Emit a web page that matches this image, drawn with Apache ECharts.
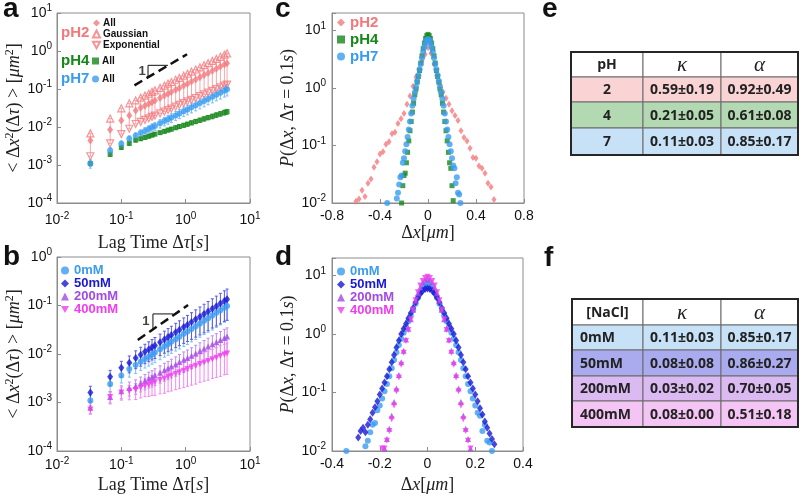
<!DOCTYPE html>
<html>
<head>
<meta charset="utf-8">
<script src="https://cdn.jsdelivr.net/npm/echarts@6/dist/echarts.min.js"></script>
<style>
html, body { margin: 0; padding: 0; background: #fff; }
#chart { width: 800px; height: 498px; }
</style>
</head>
<body>
<div id="chart"></div>
<script>
// lag times (s) shared by panels a and b
var lagTime = [0.033, 0.067, 0.1, 0.133, 0.167, 0.2, 0.233, 0.267, 0.3, 0.333, 0.4, 0.467, 0.533, 0.6,
    0.7, 0.8, 0.933, 1.067, 1.233, 1.433, 1.667, 1.933, 2.233, 2.6, 3.0, 3.467, 4.0, 4.4];

// panel a: MSD vs pH
var msdPH2 = [0.0044, 0.0085, 0.0148, 0.020, 0.027, 0.032, 0.036, 0.041, 0.045, 0.050, 0.058, 0.067, 0.075, 0.083,
    0.095, 0.107, 0.123, 0.138, 0.157, 0.179, 0.204, 0.233, 0.264, 0.302, 0.343, 0.389, 0.441, 0.479];
var msdPH2Gauss = [0.0068, 0.0167, 0.031, 0.042, 0.050, 0.059, 0.067, 0.075, 0.084, 0.092, 0.107, 0.123, 0.138, 0.153,
    0.175, 0.196, 0.224, 0.252, 0.286, 0.326, 0.372, 0.423, 0.479, 0.547, 0.619, 0.703, 0.796, 0.865];
var msdPH2Exp = [0.0017, 0.0037, 0.0065, 0.009, 0.012, 0.0137, 0.0154, 0.0169, 0.0185, 0.020, 0.0228, 0.0255, 0.028, 0.0306,
    0.0343, 0.038, 0.0426, 0.047, 0.052, 0.058, 0.065, 0.072, 0.080, 0.089, 0.099, 0.110, 0.122, 0.131];
var msdPH4 = [0.0011, 0.0019, 0.0029, 0.0037, 0.0045, 0.0049, 0.0053, 0.0057, 0.0061, 0.0065, 0.0071, 0.0077, 0.0083, 0.0088,
    0.0096, 0.0103, 0.0111, 0.0119, 0.0129, 0.014, 0.0151, 0.0164, 0.0177, 0.0191, 0.0207, 0.0223, 0.0241, 0.0253];
var msdPH7 = [0.0011, 0.0024, 0.0036, 0.0049, 0.0059, 0.0069, 0.0079, 0.0088, 0.0098, 0.0107, 0.0125, 0.0143, 0.016, 0.0178,
    0.0202, 0.0227, 0.026, 0.029, 0.0329, 0.0374, 0.0427, 0.0484, 0.0548, 0.0625, 0.0706, 0.080, 0.090, 0.098];
// relative error bars
var errPH4 = [0.15, 0.12, 0.12, 0.1, 0.1, 0.1, 0.1, 0.1, 0.1, 0.1, 0.1, 0.11, 0.11, 0.11,
    0.11, 0.12, 0.12, 0.12, 0.12, 0.13, 0.13, 0.13, 0.13, 0.14, 0.14, 0.14, 0.15, 0.15];
var errPH7 = [0.25, 0.2, 0.2, 0.2, 0.2, 0.22, 0.22, 0.22, 0.24, 0.24, 0.25, 0.25, 0.26, 0.26,
    0.27, 0.27, 0.28, 0.28, 0.29, 0.29, 0.3, 0.3, 0.3, 0.31, 0.31, 0.32, 0.32, 0.33];

// panel b: MSD vs [NaCl]  (0mM is the pH7 sample)
var msd0mM = msdPH7;
var msd50mM = [0.0016, 0.0034, 0.0052, 0.0066, 0.0083, 0.0097, 0.0111, 0.0124, 0.0137, 0.015, 0.0175, 0.020, 0.0223, 0.0247,
    0.0282, 0.0316, 0.036, 0.0403, 0.0456, 0.0518, 0.0589, 0.0667, 0.0755, 0.0859, 0.097, 0.110, 0.124, 0.134];
var msd200mM = [0.00078, 0.0013, 0.0017, 0.0020, 0.0022, 0.0025, 0.0028, 0.0031, 0.0033, 0.0036, 0.0041, 0.0046, 0.005, 0.0055,
    0.0061, 0.0068, 0.0076, 0.0083, 0.0092, 0.0103, 0.0115, 0.0128, 0.0142, 0.0158, 0.0175, 0.0194, 0.0215, 0.023];
var msd400mM = [0.00072, 0.0013, 0.0016, 0.0017, 0.0018, 0.0020, 0.0022, 0.0023, 0.0025, 0.0026, 0.0029, 0.0031, 0.0034, 0.0036,
    0.0039, 0.0042, 0.0045, 0.0049, 0.0053, 0.0057, 0.0062, 0.0067, 0.0072, 0.0078, 0.0084, 0.0091, 0.0098, 0.0103];
var err0mM = [0.3, 0.3, 0.3, 0.32, 0.33, 0.34, 0.35, 0.36, 0.37, 0.38, 0.39, 0.4, 0.41, 0.42,
    0.43, 0.44, 0.45, 0.46, 0.46, 0.47, 0.48, 0.48, 0.49, 0.5, 0.5, 0.5, 0.5, 0.5];
var err50mM = [0.35, 0.35, 0.36, 0.38, 0.4, 0.42, 0.43, 0.44, 0.45, 0.46, 0.47, 0.48, 0.5, 0.51,
    0.52, 0.53, 0.54, 0.55, 0.56, 0.57, 0.58, 0.59, 0.6, 0.6, 0.61, 0.62, 0.62, 0.63];
var err200mM = [0.25, 0.28, 0.3, 0.32, 0.33, 0.34, 0.35, 0.36, 0.37, 0.38, 0.39, 0.4, 0.41, 0.42,
    0.43, 0.44, 0.45, 0.46, 0.46, 0.47, 0.48, 0.48, 0.49, 0.5, 0.5, 0.5, 0.5, 0.5];
var err400mM = [0.2, 0.25, 0.3, 0.33, 0.36, 0.38, 0.4, 0.42, 0.44, 0.46, 0.48, 0.5, 0.51, 0.52,
    0.53, 0.54, 0.55, 0.56, 0.57, 0.58, 0.58, 0.59, 0.6, 0.6, 0.61, 0.62, 0.62, 0.63];

// panel c/d: displacement distributions
var binWide = [-0.6, -0.575, -0.55, -0.525, -0.5, -0.475, -0.45, -0.425, -0.4, -0.375, -0.35, -0.325, -0.3, -0.275,
    -0.25, -0.225, -0.2, -0.175, -0.15, -0.125, -0.1, -0.075, -0.05, -0.025, 0, 0.025, 0.05, 0.075, 0.1, 0.125,
    0.15, 0.175, 0.2, 0.225, 0.25, 0.275, 0.3, 0.325, 0.35, 0.375, 0.4, 0.425, 0.45, 0.475, 0.5, 0.525, 0.55];
var pdfPH2 = [0.0107, 0.0117, 0.0166, 0.013, 0.022, 0.026, 0.042, 0.052, 0.071, 0.078, 0.105, 0.116, 0.16, 0.17,
    0.24, 0.29, 0.36, 0.52, 0.72, 1.07, 1.55, 2.1, 2.9, 3.8, 5.0, 4.0, 2.6, 1.66, 1.15, 0.85,
    0.66, 0.52, 0.40, 0.33, 0.27, 0.18, 0.138, 0.12, 0.089, 0.062, 0.060, 0.044, 0.040, 0.033, 0.022, 0.019, 0.0115];

var binNarrow = [-0.34, -0.33, -0.32, -0.31, -0.30, -0.29, -0.28, -0.27, -0.26, -0.25, -0.24, -0.23, -0.22, -0.21,
    -0.20, -0.19, -0.18, -0.17, -0.16, -0.15, -0.14, -0.13, -0.12, -0.11, -0.10, -0.09, -0.08, -0.07, -0.06,
    -0.05, -0.04, -0.03, -0.02, -0.01, 0, 0.01, 0.02, 0.03, 0.04, 0.05, 0.06, 0.07, 0.08, 0.09, 0.10, 0.11,
    0.12, 0.13, 0.14, 0.15, 0.16, 0.17, 0.18, 0.19, 0.20, 0.21, 0.22, 0.23, 0.24, 0.25, 0.26, 0.27, 0.28];
var pdfPH4 = [null, null, null, null, null, null, null, null, null, null, null, null, 0.010, 0.020,
    0.030, 0.033, 0.05, 0.076, 0.12, 0.18, 0.26, 0.38, 0.54, 0.76, 0.95, 1.26, 1.58, 2.0, 2.7,
    3.6, 4.8, 6.0, 7.2, 8.1, 8.5, 8.1, 7.2, 6.0, 4.8, 3.6, 2.7, 2.0, 1.58, 1.26, 0.95, 0.76,
    0.54, 0.38, 0.26, 0.18, 0.12, 0.076, 0.05, 0.04, 0.02, 0.011, null, null, null, null, null, null, null];
var pdfPH7 = [0.010, null, null, null, null, null, null, null, 0.012, 0.015, 0.021, 0.028, 0.03, 0.05,
    0.060, 0.079, 0.105, 0.14, 0.19, 0.26, 0.36, 0.49, 0.65, 0.83, 1.05, 1.32, 1.66, 2.1, 2.6,
    3.3, 4.2, 5.1, 6.0, 6.8, 7.1, 6.8, 6.0, 5.1, 4.2, 3.3, 2.6, 2.1, 1.66, 1.32, 1.05, 0.83,
    0.65, 0.49, 0.36, 0.26, 0.19, 0.14, 0.105, 0.079, 0.06, 0.045, 0.04, 0.022, 0.028, 0.015, 0.014, 0.010, null];
var pdf0mM = pdfPH7;
var pdf50mM = [null, null, null, null, null, 0.017, 0.022, 0.025, 0.021, 0.028, 0.035, 0.045, 0.056, 0.071,
    0.093, 0.117, 0.148, 0.19, 0.25, 0.33, 0.44, 0.59, 0.78, 1.0, 1.23, 1.5, 1.86, 2.3, 2.8,
    3.5, 4.2, 4.9, 5.5, 5.9, 6.0, 5.9, 5.5, 4.9, 4.2, 3.5, 2.8, 2.3, 1.86, 1.5, 1.23, 1.0,
    0.78, 0.59, 0.44, 0.33, 0.25, 0.19, 0.148, 0.117, 0.093, 0.071, 0.054, 0.042, 0.032, 0.025, 0.02, 0.016, 0.013];
var pdf200mM = [null, null, null, null, null, null, null, null, null, null, null, null, null, null,
    null, null, 0.011, 0.016, 0.024, 0.04, 0.069, 0.117, 0.20, 0.33, 0.52, 0.81, 1.23, 1.8, 2.6,
    3.7, 5.0, 6.3, 7.6, 8.5, 8.9, 8.5, 7.6, 6.3, 5.0, 3.7, 2.6, 1.8, 1.23, 0.81, 0.52, 0.33,
    0.20, 0.117, 0.069, 0.04, 0.024, 0.016, 0.011, null, null, null, null, null, null, null, null, null, null];
var pdf400mM = [null, null, null, null, null, null, null, null, null, null, null, null, null, null,
    null, 0.011, 0.011, 0.015, 0.022, 0.035, 0.06, 0.105, 0.18, 0.30, 0.48, 0.76, 1.17, 1.78, 2.6,
    3.8, 5.2, 6.8, 8.1, 9.1, 9.6, 9.1, 8.1, 6.8, 5.2, 3.8, 2.6, 1.78, 1.17, 0.76, 0.48, 0.30,
    0.18, 0.105, 0.06, 0.035, 0.022, 0.015, 0.011, null, null, null, null, null, null, null, null, null, null];

// tables e / f
var phRows = ['2', '4', '7'];
var phKappa = ['0.59±0.19', '0.21±0.05', '0.11±0.03'];
var phAlpha = ['0.92±0.49', '0.61±0.08', '0.85±0.17'];
var naclRows = ['0mM', '50mM', '200mM', '400mM'];
var naclKappa = ['0.11±0.03', '0.08±0.08', '0.03±0.02', '0.08±0.00'];
var naclAlpha = ['0.85±0.17', '0.86±0.27', '0.70±0.05', '0.51±0.18'];

var cPH2 = '#f4797d', cPH2Bar = '#f7a6a9', cPH4 = '#17871a', cPH7 = '#3a9cf0';
var c50 = '#1818d6', c200 = '#a349e4', c400 = '#f03cef';
var invTri = 'path://M0,0L10,0L5,9Z';
var sans = 'Liberation Sans', serif = 'Liberation Serif';

function pairs(xs, ys) {
    var out = [];
    xs.forEach(function (x, i) { if (ys[i] != null) out.push([x, ys[i]]); });
    return out;
}
function errData(vals, rel) {
    return lagTime.map(function (t, i) { return [t, vals[i] * (1 - rel[i]), vals[i] * (1 + rel[i])]; });
}
function renderErr(params, api) {
    var x = api.value(0);
    var lo = api.coord([x, api.value(1)]);
    var hi = api.coord([x, api.value(2)]);
    var st = { stroke: api.visual('color'), lineWidth: 1 };
    return { type: 'group', children: [
        { type: 'line', shape: { x1: lo[0], y1: lo[1], x2: hi[0], y2: hi[1] }, style: st },
        { type: 'line', shape: { x1: lo[0] - 1.5, y1: lo[1], x2: lo[0] + 1.5, y2: lo[1] }, style: st },
        { type: 'line', shape: { x1: hi[0] - 1.5, y1: hi[1], x2: hi[0] + 1.5, y2: hi[1] }, style: st }
    ] };
}
function errSeries(g, data, color) {
    return { type: 'custom', xAxisIndex: g, yAxisIndex: g, renderItem: renderErr, data: data,
        encode: { x: 0, y: [1, 2] }, itemStyle: { color: color }, silent: true, z: 1 };
}
function scatter(g, name, data, symbol, size, color, hollow) {
    return { type: 'scatter', name: name, xAxisIndex: g, yAxisIndex: g, data: data, symbol: symbol,
        symbolSize: size, silent: true, z: 3,
        itemStyle: hollow ? { color: 'rgba(255,255,255,0)', borderColor: color, borderWidth: 1.2 } : { color: color } };
}

function powLabel(v) {
    var e = Math.log10(v);
    if (Math.abs(e - Math.round(e)) > 1e-6) return '';
    return '{b|10}{e|' + Math.round(e) + '}';
}
var powRich = { b: { fontSize: 14, fontFamily: sans, color: '#111' }, e: { fontSize: 10, fontFamily: sans, color: '#111', padding: [0, 0, 9, 0] } };
var mathRich = {
    t: { fontFamily: serif, fontSize: 18, color: '#222' },
    i: { fontFamily: serif, fontStyle: 'italic', fontSize: 18, color: '#222' },
    s: { fontFamily: serif, fontSize: 12, color: '#222', padding: [0, 0, 9, 0] }
};
var boxLine = { show: true, onZero: false, lineStyle: { color: '#8c8c8c' } };
var tick = { show: true, inside: true, length: 4, lineStyle: { color: '#8c8c8c' } };

function logAxis(g, min, max, margin, extra) {
    var ax = { gridIndex: g, type: 'log', logBase: 10, min: min, max: max, axisLine: boxLine, axisTick: tick,
        splitLine: { show: false }, axisLabel: { formatter: powLabel, rich: powRich, margin: margin } };
    return Object.assign(ax, extra || {});
}
function linAxis(g, min, max, step, extra) {
    var ax = { gridIndex: g, type: 'value', min: min, max: max, interval: step, axisLine: boxLine, axisTick: tick,
        splitLine: { show: false }, axisLabel: { fontSize: 14, fontFamily: sans, color: '#111', margin: 6 } };
    return Object.assign(ax, extra || {});
}

var lagName = '{t|Lag Time Δ}{i|τ}{t|[}{i|s}{t|]}';
var msdName = '{t|< Δ}{i|x}{s|2}{t|(Δ}{i|τ}{t|) > [}{i|μm}{s|2}{t|]}';
var pName = '{i|P}{t|(Δ}{i|x}{t|, Δ}{i|τ}{t| = 0.1}{i|s}{t|)}';
var dxName = '{t|Δ}{i|x}{t|[}{i|μm}{t|]}';
function named(name, gap) {
    return { name: name, nameLocation: 'middle', nameGap: gap, nameTextStyle: { rich: mathRich } };
}

var gridStyle = { show: true, borderColor: '#8c8c8c', borderWidth: 1, backgroundColor: '#fff' };

function legendBox(names, colors, left, top, size, lh) {
    return { data: names.map(function (n, i) { return { name: n, textStyle: { color: colors[i] } }; }),
        orient: 'vertical', left: left, top: top, padding: 0, itemGap: 0, itemWidth: 8, itemHeight: 8,
        selectedMode: false, textStyle: { fontSize: size, fontWeight: 'bold', fontFamily: sans, lineHeight: lh } };
}
function legendA(names, top) {
    return { data: names, orient: 'vertical', left: 92, top: top, padding: 0, itemGap: 1, itemWidth: 7, itemHeight: 7,
        selectedMode: false, formatter: function (n) { return n.replace(/^pH\d /, ''); },
        textStyle: { fontSize: 10, fontWeight: 'bold', fontFamily: sans, color: '#111', lineHeight: 10, padding: [0, 0, 0, -2] } };
}

function buildTable(colX, rowY, cells, fills, firstLeft) {
    var els = [];
    cells.forEach(function (row, i) {
        row.forEach(function (txt, j) {
            els.push({ type: 'rect', shape: { x: colX[j], y: rowY[i], width: colX[j + 1] - colX[j], height: rowY[i + 1] - rowY[i] },
                style: { fill: fills[i], stroke: '#6b6b6b', lineWidth: 1 } });
            var isMath = (i === 0 && j > 0);
            var left = firstLeft && j === 0 && i > 0;
            els.push({ type: 'text', style: {
                text: txt, x: left ? colX[j] + 8 : (colX[j] + colX[j + 1]) / 2, y: (rowY[i] + rowY[i + 1]) / 2 + 1,
                textAlign: left ? 'left' : 'center', textVerticalAlign: 'middle', fill: '#222',
                font: isMath ? 'italic 21px ' + serif : 'bold 14px "Open Sans"' } });
        });
    });
    els.push({ type: 'rect', shape: { x: colX[0], y: rowY[0], width: colX[colX.length - 1] - colX[0], height: rowY[rowY.length - 1] - rowY[0] },
        style: { fill: 'none', stroke: '#262626', lineWidth: 2 } });
    return els;
}

var phCells = [['pH', 'κ', 'α']].concat(phRows.map(function (r, i) { return [r, phKappa[i], phAlpha[i]]; }));
var naclCells = [['[NaCl]', 'κ', 'α']].concat(naclRows.map(function (r, i) { return [r, naclKappa[i], naclAlpha[i]]; }));

function letter(t, x, y) {
    return { type: 'text', style: { text: t, x: x, y: y, font: 'bold 28px ' + sans, fill: '#111', textVerticalAlign: 'middle' } };
}
function tag(t, x, y, color) {
    return { type: 'text', style: { text: t, x: x, y: y, font: 'bold 15px ' + sans, fill: color, textVerticalAlign: 'middle' } };
}

var myChart = echarts.init(document.getElementById('chart'));

var option = {
    animation: false,
    backgroundColor: '#fff',
    grid: [
        Object.assign({ left: 57, top: 13, width: 193, height: 190 }, gridStyle),
        Object.assign({ left: 57, top: 257, width: 193, height: 194 }, gridStyle),
        Object.assign({ left: 332, top: 13, width: 192, height: 190 }, gridStyle),
        Object.assign({ left: 332, top: 258, width: 191, height: 193 }, gridStyle)
    ],
    xAxis: [
        logAxis(0, 0.01, 10, 8, named(lagName, 31)),
        logAxis(1, 0.01, 10, 5, named(lagName, 25)),
        linAxis(2, -0.8, 0.8, 0.4, named(dxName, 21)),
        linAxis(3, -0.4, 0.4, 0.2, named(dxName, 25))
    ],
    yAxis: [
        logAxis(0, 1e-4, 10, 5, named(msdName, 31)),
        logAxis(1, 1e-4, 1, 5, named(msdName, 31)),
        logAxis(2, 0.01, 20, 6, named(pName, 33)),
        logAxis(3, 0.01, 20, 6, named(pName, 33))
    ],
    legend: [
        legendA(['pH2 All', 'pH2 Gaussian', 'pH2 Exponential'], 18),
        legendA(['pH4 All'], 56),
        legendA(['pH7 All'], 74),
        legendBox(['0mM', '50mM', '200mM', '400mM'], [cPH7, c50, c200, c400], 61, 264, 13, 12),
        legendBox(['pH2', 'pH4', 'pH7'], [cPH2, cPH4, cPH7], 337, 14, 15, 17),
        legendBox(['0mM', '50mM', '200mM', '400mM'], [cPH7, c50, c200, c400], 337, 265, 13, 12)
    ],
    graphic: [
        letter('a', 3, 9), letter('b', 3, 257), letter('c', 275, 9), letter('d', 275, 257),
        letter('e', 542, 9), letter('f', 544, 258),
        tag('pH2', 61, 33, cPH2), tag('pH4', 61, 61, cPH4), tag('pH7', 61, 79, cPH7)
    ].concat(
        buildTable([571, 643, 721, 798], [52, 77, 102, 128, 155], phCells, ['#ffffff', '#fad4d5', '#b3d9b2', '#c7e1f7'], false),
        buildTable([572, 643, 721, 798], [299, 325, 350, 376, 401, 427], naclCells, ['#ffffff', '#c7e1f7', '#aaaaee', '#dbb9f1', '#f4c4f4'], true)
    ),
    series: [
        // panel a
        errSeries(0, lagTime.map(function (t, i) { return [t, msdPH2Exp[i], msdPH2Gauss[i]]; }), cPH2Bar),
        scatter(0, 'pH2 Gaussian', pairs(lagTime, msdPH2Gauss), 'triangle', 7, cPH2, true),
        scatter(0, 'pH2 Exponential', pairs(lagTime, msdPH2Exp), invTri, 7, cPH2, true),
        scatter(0, 'pH2 All', pairs(lagTime, msdPH2), 'diamond', [6, 8], cPH2),
        errSeries(0, errData(msdPH4, errPH4), '#4aa24c'),
        scatter(0, 'pH4 All', pairs(lagTime, msdPH4), 'rect', 5, cPH4),
        errSeries(0, errData(msdPH7, errPH7), '#7dbcf3'),
        scatter(0, 'pH7 All', pairs(lagTime, msdPH7), 'circle', 6, cPH7),
        { type: 'line', xAxisIndex: 0, yAxisIndex: 0, data: [[0.16, 0.125], [1.05, 0.82]], symbol: 'none', silent: true,
            lineStyle: { color: '#111', width: 2.5, type: [9, 5] }, z: 5 },
        { type: 'line', xAxisIndex: 0, yAxisIndex: 0, data: [[0.26, 0.2], [0.26, 0.42], [0.53, 0.42]], symbol: 'none', silent: true,
            lineStyle: { color: '#111', width: 1 }, z: 5 },
        { type: 'scatter', xAxisIndex: 0, yAxisIndex: 0, data: [[0.21, 0.29]], symbolSize: 0, silent: true, z: 5,
            label: { show: true, position: 'inside', formatter: '1', fontSize: 13, fontWeight: 'bold', color: '#111', fontFamily: sans } },
        // panel b
        errSeries(1, errData(msd0mM, err0mM), '#7dbcf3'),
        errSeries(1, errData(msd50mM, err50mM), '#5a5ae2'),
        errSeries(1, errData(msd200mM, err200mM), '#c08aee'),
        errSeries(1, errData(msd400mM, err400mM), '#f585f4'),
        scatter(1, '0mM', pairs(lagTime, msd0mM), 'circle', 6, cPH7),
        scatter(1, '50mM', pairs(lagTime, msd50mM), 'diamond', [6, 8], c50),
        scatter(1, '200mM', pairs(lagTime, msd200mM), 'triangle', 6, c200),
        scatter(1, '400mM', pairs(lagTime, msd400mM), invTri, 6, c400),
        { type: 'line', xAxisIndex: 1, yAxisIndex: 1, data: [[0.18, 0.0195], [1.09, 0.102]], symbol: 'none', silent: true,
            lineStyle: { color: '#111', width: 2.5, type: [9, 5] }, z: 5 },
        { type: 'line', xAxisIndex: 1, yAxisIndex: 1, data: [[0.31, 0.032], [0.31, 0.067], [0.64, 0.067]], symbol: 'none', silent: true,
            lineStyle: { color: '#111', width: 1 }, z: 5 },
        { type: 'scatter', xAxisIndex: 1, yAxisIndex: 1, data: [[0.24, 0.046]], symbolSize: 0, silent: true, z: 5,
            label: { show: true, position: 'inside', formatter: '1', fontSize: 13, fontWeight: 'bold', color: '#111', fontFamily: sans } },
        // panel c
        scatter(2, 'pH2', pairs(binWide, pdfPH2), 'diamond', [5, 7], cPH2),
        scatter(2, 'pH4', pairs(binNarrow, pdfPH4), 'rect', 5, cPH4),
        scatter(2, 'pH7', pairs(binNarrow, pdfPH7), 'circle', 6, cPH7),
        // panel d
        scatter(3, '0mM', pairs(binNarrow, pdf0mM), 'circle', 6, cPH7),
        scatter(3, '50mM', pairs(binNarrow, pdf50mM), 'diamond', [6, 8], c50),
        scatter(3, '200mM', pairs(binNarrow, pdf200mM), 'triangle', 6, c200),
        scatter(3, '400mM', pairs(binNarrow, pdf400mM), invTri, 6, c400)
    ]
};

myChart.setOption(option);
</script>
</body>
</html>
